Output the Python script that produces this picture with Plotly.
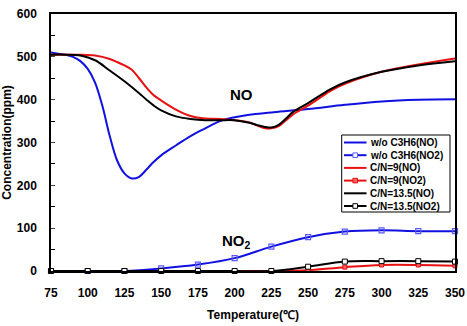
import plotly.graph_objects as go

# NO curves (smooth, no markers)
t_blue_no = [75, 80, 85, 90, 95, 100, 105, 110, 115, 120, 125, 130, 135, 140, 145, 150, 160, 170, 180, 190, 200, 210, 225, 250, 275, 300, 325, 350]
v_blue_no = [510, 507, 505, 500, 490, 472, 440, 385, 315, 258, 228, 216, 220, 237, 255, 270, 293, 315, 333, 350, 359, 365, 370, 378, 388, 396, 400, 401]

t_red_no = [75, 85, 95, 105, 115, 120, 125, 130, 135, 140, 145, 150, 160, 170, 180, 190, 200, 210, 215, 220, 225, 230, 235, 240, 250, 265, 275, 300, 325, 350]
v_red_no = [505, 505, 505, 503, 495, 488, 480, 470, 450, 428, 410, 398, 377, 362, 356, 355, 352, 347, 340, 334, 333, 338, 352, 366, 386, 420, 437, 465, 482, 496]

t_blk_no = [75, 85, 95, 105, 115, 125, 135, 140, 145, 150, 160, 170, 180, 190, 200, 210, 215, 220, 225, 230, 235, 240, 250, 265, 275, 300, 325, 350]
v_blk_no = [505, 505, 503, 492, 468, 443, 415, 400, 386, 375, 361, 355, 352, 352, 352, 346, 341, 337, 335, 341, 356, 372, 392, 424, 440, 465, 480, 490]

# NO2 curves (markers every 25 degC)
t_no2 = [75, 100, 125, 150, 175, 200, 225, 250, 275, 300, 325, 350]
v_blue_no2 = [0, 0, 0, 6, 15, 30, 57, 79, 92, 95, 93, 93]
v_red_no2 = [0, 0, 0, 0, 0, 0, 0, 2, 9, 14, 14, 12]
v_blk_no2 = [0, 0, 0, 0, 0, 0, 0, 10, 22, 23, 23, 22]

x_ticks = [75, 100, 125, 150, 175, 200, 225, 250, 275, 300, 325, 350]
names = ["w/o C3H6(NO)", "w/o C3H6(NO2)", "C/N=9(NO)", "C/N=9(NO2)", "C/N=13.5(NO)", "C/N=13.5(NO2)"]

BLUE = "#1010e0"
RED = "#e81010"
BLACK = "#000000"
FONT = "Liberation Sans, Arial"

W, H = 467, 326
ML, MR, MT, MB = 51, 12, 14, 55
PW, PH = W - ML - MR, H - MT - MB


def px2x(px):
    return (px - ML) / PW


def px2y(py):
    return (H - MB - py) / PH


fig = go.Figure()
fig.add_trace(go.Scatter(x=t_blue_no, y=v_blue_no, mode="lines", name=names[0],
                         line=dict(color=BLUE, width=2, shape="spline")))
fig.add_trace(go.Scatter(x=t_no2, y=v_blue_no2, mode="lines+markers", name=names[1],
                         line=dict(color=BLUE, width=2, shape="spline"),
                         marker=dict(symbol="square-open", size=5, color="#5a5aff", line=dict(width=1.2)),
                         cliponaxis=False))
fig.add_trace(go.Scatter(x=t_red_no, y=v_red_no, mode="lines", name=names[2],
                         line=dict(color=RED, width=2, shape="spline")))
fig.add_trace(go.Scatter(x=t_no2, y=v_red_no2, mode="lines+markers", name=names[3],
                         line=dict(color=RED, width=2, shape="spline"),
                         marker=dict(symbol="square", size=4, color="#ff6060", line=dict(width=1, color=RED)),
                         cliponaxis=False))
fig.add_trace(go.Scatter(x=t_blk_no, y=v_blk_no, mode="lines", name=names[4],
                         line=dict(color=BLACK, width=2, shape="spline")))
fig.add_trace(go.Scatter(x=t_no2, y=v_blk_no2, mode="lines+markers", name=names[5],
                         line=dict(color=BLACK, width=2, shape="spline"),
                         marker=dict(symbol="square", size=5, color="white", line=dict(width=1, color=BLACK)),
                         cliponaxis=False))

fig.add_annotation(x=205, y=411, text="<b>NO</b>", showarrow=False,
                   font=dict(family=FONT, size=15, color="black"))
fig.add_annotation(x=201.5, y=70, text="<b>NO<sub>2</sub></b>", showarrow=False,
                   font=dict(family=FONT, size=15, color="black"))

# Compact legend box (drawn in paper coordinates)
shapes = []
annots = []
LX0, LX1, LY0, LY1 = 341.7, 450, 135, 212
shapes.append(dict(type="rect", xref="paper", yref="paper", x0=px2x(LX0), x1=px2x(LX1),
                   y0=px2y(LY1), y1=px2y(LY0), line=dict(color="black", width=1),
                   fillcolor="white", layer="above"))
leg_styles = [
    (BLUE, None), (BLUE, ("open", "#5a5aff")),
    (RED, None), (RED, ("fill", "#ff6060")),
    (BLACK, None), (BLACK, ("white", "black")),
]
for i, (nm, (col, mk)) in enumerate(zip(names, leg_styles)):
    yc = 142.5 + 12.7 * i
    shapes.append(dict(type="line", xref="paper", yref="paper", x0=px2x(344), x1=px2x(366.5),
                       y0=px2y(yc), y1=px2y(yc), line=dict(color=col, width=2), layer="above"))
    if mk is not None:
        kind, c2 = mk
        s = 2.3
        if kind == "open":
            fill, lc = "white", c2
        elif kind == "fill":
            fill, lc = c2, col
        else:
            fill, lc = "white", "black"
        shapes.append(dict(type="rect", xref="paper", yref="paper", x0=px2x(355.2 - s), x1=px2x(355.2 + s),
                           y0=px2y(yc + s), y1=px2y(yc - s), line=dict(color=lc, width=1),
                           fillcolor=fill, layer="above"))
    annots.append(dict(xref="paper", yref="paper", x=px2x(368), y=px2y(yc), xanchor="left", yanchor="middle",
                       text="<b>" + nm + "</b>", showarrow=False,
                       font=dict(family=FONT, size=10, color="black")))

fig.update_layout(
    width=W, height=H,
    margin=dict(l=ML, r=MR, t=MT, b=MB),
    paper_bgcolor="white", plot_bgcolor="white",
    font=dict(family=FONT, color="black"),
    showlegend=False,
    shapes=shapes,
    xaxis=dict(range=[75, 350], tickvals=x_ticks, ticktext=[str(v) for v in x_ticks],
               showgrid=False, zeroline=False, showline=True, linecolor="black", linewidth=1.5,
               mirror=True, ticks="", ticklabelstandoff=10, automargin=False,
               tickfont=dict(family=FONT, size=12, weight="bold"),
               title=dict(text="Temperature(℃)", font=dict(family=FONT, size=12, weight="bold"), standoff=11)),
    yaxis=dict(range=[0, 600], dtick=100, showgrid=False, zeroline=False, showline=True,
               linecolor="black", linewidth=1.5, mirror=True, ticks="inside", ticklen=4, automargin=False,
               minor=dict(dtick=50, ticks="inside", ticklen=4, tickcolor="black"),
               tickfont=dict(family=FONT, size=12, weight="bold"), ticklabelstandoff=10,
               title=dict(text="Concentration(ppm)", font=dict(family=FONT, size=12, weight="bold"), standoff=6)),
)
for a in annots:
    fig.add_annotation(**a)

fig.write_html("out.html")
